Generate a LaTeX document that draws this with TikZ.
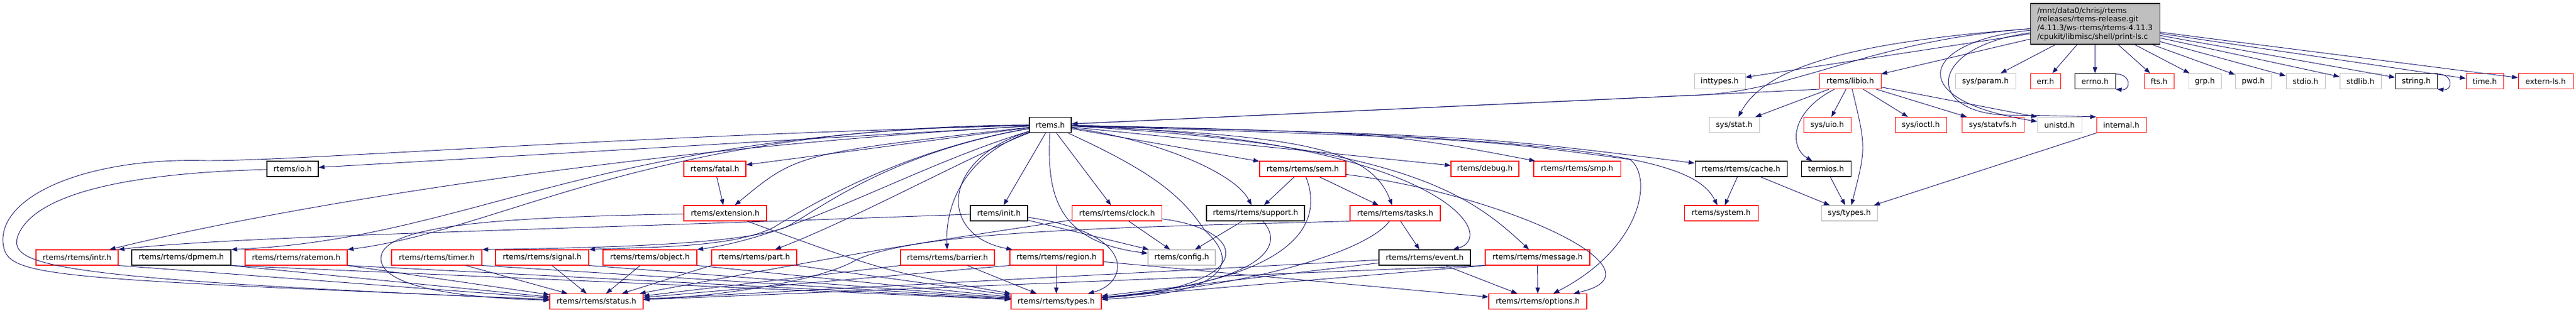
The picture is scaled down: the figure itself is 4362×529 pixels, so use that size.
\documentclass[tikz,border=0pt]{standalone}
\usepackage{fontspec}
\newfontfamily\dotfont{DejaVu Sans}
\usetikzlibrary{arrows.meta}
\definecolor{edgeblue}{HTML}{191970}
\definecolor{grey75}{HTML}{BFBFBF}

\begin{document}
\begin{tikzpicture}[x=0.75pt, y=-0.75pt,
        hdr/.style={rectangle, draw, fill=white, line width=0.8pt, inner sep=0pt,
                minimum height=19.5pt, font=\dotfont\fontsize{9.6}{11}\selectfont},
        boxw/.style={minimum width=#1*0.75pt},
        doc/.style={hdr, draw=black},
        trunc/.style={hdr, draw=red},
        nodoc/.style={hdr, draw=grey75},
        incl/.style={draw=edgeblue, line width=0.7pt, -{Triangle[length=7.5pt, width=5.5pt]}}]
        \useasboundingbox (0, 0) rectangle (4362, 529);

        \node[hdr, fill=grey75, draw=black, align=left, boxw=219, minimum height=51.75pt] (src) at (3547.5, 40.5)
                {/mnt/data0/chrisj/rtems\\/releases/rtems-release.git\\/4.11.3/ws-rtems/rtems-4.11.3\\/cpukit/libmisc/shell/print-ls.c};

        \node[nodoc, boxw=86] (inttypes) at (2912, 137.5) {inttypes.h};
        \node[trunc, boxw=104] (libio) at (3133, 137.5) {rtems/libio.h};
        \node[nodoc, boxw=102] (sysparam) at (3362, 137.5) {sys/param.h};
        \node[trunc, boxw=51] (err) at (3463.5, 137.5) {err.h};
        \node[doc, boxw=69] (errno) at (3547.5, 137.5) {errno.h};
        \node[trunc, boxw=50] (fts) at (3656, 137.5) {fts.h};
        \node[nodoc, boxw=55] (grp) at (3733.5, 137.5) {grp.h};
        \node[nodoc, boxw=61] (pwd) at (3815.5, 137.5) {pwd.h};
        \node[nodoc, boxw=66] (stdio) at (3904, 137.5) {stdio.h};
        \node[nodoc, boxw=70] (stdlib) at (3997, 137.5) {stdlib.h};
        \node[doc, boxw=71] (string) at (4091.5, 137.5) {string.h};
        \node[trunc, boxw=63] (time) at (4207.5, 137.5) {time.h};
        \node[trunc, boxw=93] (externls) at (4310.5, 137.5) {extern-ls.h};

        \node[doc, boxw=71] (rtemsh) at (1778.5, 211.5) {rtems.h};
        \node[nodoc, boxw=85] (sysstat) at (2936.5, 211.5) {sys/stat.h};
        \node[trunc, boxw=80] (sysuio) at (3094, 211.5) {sys/uio.h};
        \node[trunc, boxw=87] (sysioctl) at (3252.5, 211.5) {sys/ioctl.h};
        \node[trunc, boxw=105] (statvfs) at (3374.5, 211.5) {sys/statvfs.h};
        \node[nodoc, boxw=75] (unistd) at (3487.5, 211.5) {unistd.h};
        \node[trunc, boxw=84] (internal) at (3592, 211.5) {internal.h};

        \node[doc, boxw=87] (io) at (495.5, 286) {rtems/io.h};
        \node[trunc, boxw=105] (fatal) at (1210.5, 286) {rtems/fatal.h};
        \node[trunc, boxw=146] (sem) at (2206, 286) {rtems/rtems/sem.h};
        \node[trunc, boxw=115] (debug) at (2514.5, 286) {rtems/debug.h};
        \node[trunc, boxw=147] (smp) at (2670.5, 286) {rtems/rtems/smp.h};
        \node[doc, boxw=156] (cache) at (2948, 286) {rtems/rtems/cache.h};
        \node[doc, boxw=84] (termios) at (3092, 286) {termios.h};

        \node[trunc, boxw=140] (extension) at (1228, 361) {rtems/extension.h};
        \node[doc, boxw=97] (init) at (1691.5, 361) {rtems/init.h};
        \node[trunc, boxw=152] (clock) at (1891.5, 361) {rtems/rtems/clock.h};
        \node[doc, boxw=166] (support) at (2126, 361) {rtems/rtems/support.h};
        \node[trunc, boxw=153] (tasks) at (2362.5, 361) {rtems/rtems/tasks.h};
        \node[trunc, boxw=125] (system) at (2914.5, 361) {rtems/system.h};
        \node[nodoc, boxw=95] (systypes) at (3131.5, 361) {sys/types.h};

        \node[trunc, boxw=139] (intr) at (130.5, 436) {rtems/rtems/intr.h};
        \node[doc, boxw=168] (dpmem) at (307, 436) {rtems/rtems/dpmem.h};
        \node[trunc, boxw=173] (ratemon) at (501.5, 436) {rtems/rtems/ratemon.h};
        \node[trunc, boxw=153] (timer) at (739.5, 436) {rtems/rtems/timer.h};
        \node[trunc, boxw=158] (signal) at (918, 436) {rtems/rtems/signal.h};
        \node[trunc, boxw=159] (object) at (1100.5, 436) {rtems/rtems/object.h};
        \node[trunc, boxw=144] (part) at (1277, 436) {rtems/rtems/part.h};
        \node[trunc, boxw=159] (barrier) at (1604.5, 436) {rtems/rtems/barrier.h};
        \node[trunc, boxw=158] (region) at (1789, 436) {rtems/rtems/region.h};
        \node[nodoc, boxw=114] (config) at (2001, 436) {rtems/config.h};
        \node[doc, boxw=155] (event) at (2412.5, 436) {rtems/rtems/event.h};
        \node[trunc, boxw=177] (message) at (2603.5, 436) {rtems/rtems/message.h};

        \node[trunc, boxw=158] (status) at (1010, 510.5) {rtems/rtems/status.h};
        \node[trunc, boxw=153] (types) at (1788.5, 510.5) {rtems/rtems/types.h};
        \node[trunc, boxw=166] (options) at (2604, 510.5) {rtems/rtems/options.h};

        \draw[incl] (src) -- (inttypes);
        \draw[incl] (src) -- (libio);
        \draw[incl] (src) .. controls (3150, 70) and (3040, 160) .. (2850, 162) -- (rtemsh);
        \draw[incl] (src) .. controls (3150, 70) and (2990, 110) .. (sysstat);
        \draw[incl] (src) -- (sysparam);
        \draw[incl] (src) -- (err);
        \draw[incl] (src) -- (errno);
        \draw[incl] (src) -- (fts);
        \draw[incl] (src) -- (grp);
        \draw[incl] (src) -- (pwd);
        \draw[incl] (src) -- (stdio);
        \draw[incl] (src) -- (stdlib);
        \draw[incl] (src) -- (string);
        \draw[incl] (src) -- (time);
        \draw[incl] (src) -- (externls);
        \draw[incl] (src) .. controls (3250, 70) and (3220, 170) .. (unistd);
        \draw[incl] (src) .. controls (3260, 80) and (3260, 192) .. (3400, 195) .. controls (3480, 196) .. (internal.north west);
        \draw[incl] ([yshift=-1pt]errno.north east) .. controls +(20pt, 0pt) and +(20pt, -2pt) .. (errno.south east);
        \draw[incl] ([yshift=-1pt]string.north east) .. controls +(20pt, 0pt) and +(20pt, -2pt) .. (string.south east);

        \draw[incl] (libio.south west) .. controls (2900, 160) .. (rtemsh);
        \draw[incl] (libio) -- (sysstat);
        \draw[incl] (libio) .. controls (3030, 190) and (3030, 250) .. (termios);
        \draw[incl] (libio) -- (sysuio);
        \draw[incl] (libio) .. controls (3160, 250) .. (systypes);
        \draw[incl] (libio) -- (sysioctl);
        \draw[incl] (libio) -- (statvfs);
        \draw[incl] (libio) -- (unistd.north west);
        \draw[incl] (internal) -- (systypes);
        \draw[incl] (termios) -- (systypes);
        \draw[incl] (cache) -- (systypes);
        \draw[incl] (cache) -- (system);

        \draw[incl] (rtemsh) -- (io);
        \draw[incl] (rtemsh) -- (fatal);
        \draw[incl] (rtemsh) .. controls (1350, 260) .. (extension);
        \draw[incl] (rtemsh) .. controls (1000, 232) and (520, 272) .. (350, 272) .. controls (150, 266) and (0, 330) .. (5, 410) .. controls (10, 470) and (60, 470) .. (status);
        \draw[incl] (rtemsh) .. controls (1100, 250) and (500, 345) .. (intr);
        \draw[incl] (rtemsh) .. controls (1000, 222) and (800, 405) .. (dpmem.north east);
        \draw[incl] (rtemsh) .. controls (1100, 215) and (850, 390) .. (ratemon.north east);
        \draw[incl] (rtemsh) .. controls (1500, 260) and (1380, 360) .. (1330, 385) .. controls (1250, 415) and (1000, 420) .. (timer.north east);
        \draw[incl] (rtemsh) .. controls (1520, 255) and (1360, 355) .. (1310, 385) .. controls (1240, 420) and (1100, 418) .. (signal.north east);
        \draw[incl] (rtemsh) .. controls (1550, 280) and (1350, 400) .. (object.north east);
        \draw[incl] (rtemsh) .. controls (1650, 260) and (1450, 370) .. (part);
        \draw[incl] (rtemsh) .. controls (1640, 260) and (1600, 340) .. (barrier);
        \draw[incl] (rtemsh) .. controls (1590, 270) and (1590, 400) .. (region);
        \draw[incl] (rtemsh) -- (init);
        \draw[incl] (rtemsh) .. controls (1772, 330) and (1790, 410) .. (config);
        \draw[incl] (rtemsh) -- (clock);
        \draw[incl] (rtemsh) .. controls (1950, 290) and (2000, 330) .. (2040, 390) .. controls (2085, 430) and (2110, 495) .. (types);
        \draw[incl] (rtemsh) .. controls (1950, 235) and (2090, 290) .. (support);
        \draw[incl] (rtemsh) -- (sem);
        \draw[incl] (rtemsh) -- (debug);
        \draw[incl] (rtemsh) .. controls (2350, 225) .. (smp);
        \draw[incl] (rtemsh) .. controls (2500, 230) .. (cache);
        \draw[incl] (rtemsh) .. controls (2200, 230) and (2320, 250) .. (tasks);
        \draw[incl] (rtemsh) .. controls (2440, 235) and (2540, 400) .. (event);
        \draw[incl] (rtemsh) .. controls (2380, 245) and (2490, 330) .. (message);
        \draw[incl] (rtemsh) .. controls (2700, 230) and (2870, 270) .. (system);
        \draw[incl] (rtemsh) .. controls (2500, 235) .. (2760, 270) .. controls (2800, 300) and (2780, 420) .. (options);

        \draw[incl] (sem) -- (support);
        \draw[incl] (sem) -- (tasks);
        \draw[incl] (sem) .. controls (2550, 330) and (2830, 460) .. (options);
        \draw[incl] (sem) .. controls (2235, 360) and (2230, 470) .. (types);
        \draw[incl] (support) -- (config);
        \draw[incl] (support) .. controls (2180, 420) and (2130, 480) .. (types);
        \draw[incl] (clock) -- (config);
        \draw[incl] (clock) .. controls (2120, 390) and (2130, 485) .. (types);
        \draw[incl] (clock) .. controls (1500, 420) .. (status);
        \draw[incl] (init) -- (config);
        \draw[incl] (init) .. controls (1930, 395) and (1910, 480) .. (types);
        \draw[incl] (init) .. controls (900, 390) and (400, 400) .. (intr.north east);
        \draw[incl] (fatal) -- (extension);
        \draw[incl] (extension) .. controls (1500, 460) .. (types);
        \draw[incl] (extension) .. controls (850, 368) and (640, 380) .. (645, 440) .. controls (650, 490) and (800, 505) .. (status);
        \draw[incl] (io) .. controls (250, 292) and (60, 320) .. (30, 400) .. controls (15, 450) and (80, 472) .. (status);

        \draw[incl] (tasks) -- (event);
        \draw[incl] (tasks.south west) .. controls (1900, 385) and (1560, 390) .. (1450, 440) .. controls (1400, 470) and (1250, 500) .. (status);
        \draw[incl] (tasks) .. controls (2320, 420) and (2150, 480) .. (types);

        \draw[incl] (intr.south east) -- (status);
        \draw[incl] (dpmem.south east) -- (status);
        \draw[incl] (dpmem.south east) -- (types);
        \draw[incl] (ratemon.south east) -- (status);
        \draw[incl] (ratemon.south east) -- (types);
        \draw[incl] (timer) -- (status);
        \draw[incl] (timer.south east) -- (types);
        \draw[incl] (signal) -- (status);
        \draw[incl] (signal.south east) -- (types);
        \draw[incl] (object) -- (status);
        \draw[incl] (object.south east) -- (types);
        \draw[incl] (part.south west) -- (status);
        \draw[incl] (part.south east) -- (types);
        \draw[incl] (barrier.south west) -- (status);
        \draw[incl] (barrier) -- (types);
        \draw[incl] (region.south west) -- (status);
        \draw[incl] (region) -- (types);
        \draw[incl] (region) -- (options);
        \draw[incl] (event) -- (status);
        \draw[incl] (event) -- (types);
        \draw[incl] (event) -- (options);
        \draw[incl] (message.south west) -- (status);
        \draw[incl] (message.south west) -- (types);
        \draw[incl] (message) -- (options);
\end{tikzpicture}
\end{document}
